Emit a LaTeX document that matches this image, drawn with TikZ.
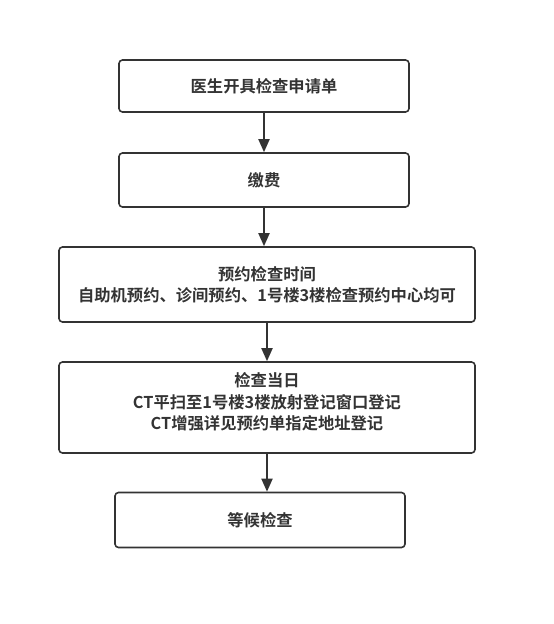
\documentclass[tikz,border=0pt]{standalone}
\usepackage{fontspec}
\setmainfont{Noto Sans CJK SC}[BoldFont={Noto Sans CJK SC Bold}]
\usetikzlibrary{arrows.meta,positioning}
\usetikzlibrary{calc}
\definecolor{linegray}{HTML}{333333}
\tikzset{
  stepbox/.style={draw=linegray,line width=1.6pt,rounded corners=3.5pt,rectangle,
    inner sep=0pt,align=center,text=linegray,font=\fontsize{16.3}{21.5}\selectfont\bfseries},
  flow/.style={draw=linegray,line width=1.8pt,-{Triangle[width=11pt,length=13pt]}}
}
\begin{document}
\begin{tikzpicture}[x=1pt,y=1pt]
\useasboundingbox (0,0) rectangle (554,-624);

\node[stepbox,minimum width=290pt,minimum height=52pt] (apply) at (264,-86) {医生开具检查申请单};
\node[stepbox,minimum width=290pt,minimum height=54pt] (pay) at (264,-180) {缴费};
\node[stepbox,minimum width=416pt,minimum height=75pt] (book) at (267,-284.5) {预约检查时间\\自助机预约、诊间预约、1号楼3楼检查预约中心均可};
\node[stepbox,minimum width=416pt,minimum height=91pt] (day) at (267,-407.5) {检查当日\\CT平扫至1号楼3楼放射登记窗口登记\\CT增强详见预约单指定地址登记\\[-9pt]{}};
\node[stepbox,minimum width=290pt,minimum height=55pt] (wait) at (260,-520) {等候检查};

\draw[flow] (apply.south) -- (pay.north);
\draw[flow] (pay.south) -- (pay.south |- book.north);
\draw[flow] (book.south) -- (day.north);
\draw[flow] (day.south) -- (day.south |- wait.north);
\end{tikzpicture}
\end{document}
